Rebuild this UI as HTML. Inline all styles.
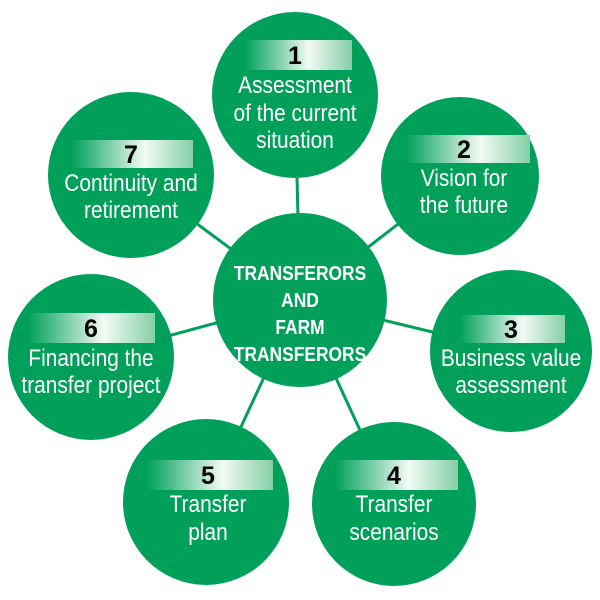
<!DOCTYPE html>
<html><head><style>
html,body{margin:0;padding:0;background:#fff;}
svg{display:block;}
text{font-family:"Liberation Sans",sans-serif;}
.t{fill:#fff;font-size:24px;text-anchor:middle;}
.n{fill:#000;font-size:25px;font-weight:bold;text-anchor:middle;}
.c{fill:#fff;font-size:20px;font-weight:bold;text-anchor:middle;}
</style></head><body>
<svg width="600" height="600" viewBox="0 0 600 600">
<defs>
<linearGradient id="g" x1="0" x2="1" y1="0" y2="0">
<stop offset="0" stop-color="#00a05a"/>
<stop offset="0.6" stop-color="#f2faf5"/>
<stop offset="1" stop-color="#84cfa6"/>
</linearGradient>
</defs>
<g stroke="#00a05a" stroke-width="3">
<line x1="300" y1="300" x2="295" y2="95"/>
<line x1="300" y1="300" x2="460" y2="176"/>
<line x1="300" y1="300" x2="511" y2="351"/>
<line x1="300" y1="300" x2="394" y2="504"/>
<line x1="300" y1="300" x2="206" y2="502"/>
<line x1="300" y1="300" x2="91" y2="357"/>
<line x1="300" y1="300" x2="131" y2="175"/>
</g>
<g fill="#00a05a">
<circle cx="300" cy="300" r="87"/>
<circle cx="295" cy="95" r="83"/>
<circle cx="460" cy="176" r="79"/>
<circle cx="511" cy="351" r="81"/>
<circle cx="394" cy="504" r="82"/>
<circle cx="206" cy="502" r="83"/>
<circle cx="91" cy="357" r="83"/>
<circle cx="131" cy="175" r="83"/>
</g>
<!-- 1 -->
<rect x="245" y="40" width="107" height="30" fill="url(#g)"/>
<text class="n" x="295" y="64">1</text>
<g transform="translate(295,0) scale(0.87,1)">
<text class="t" x="0" y="93">Assessment</text>
<text class="t" x="0" y="121">of the current</text>
<text class="t" x="0" y="148">situation</text>
</g>
<!-- 2 -->
<rect x="406" y="135" width="124" height="28" fill="url(#g)"/>
<text class="n" x="464" y="158">2</text>
<g transform="translate(464,0) scale(0.87,1)">
<text class="t" x="0" y="186">Vision for</text>
<text class="t" x="0" y="213">the future</text>
</g>
<!-- 3 -->
<rect x="460" y="315" width="105" height="28" fill="url(#g)"/>
<text class="n" x="511" y="338">3</text>
<g transform="translate(511,0) scale(0.87,1)">
<text class="t" x="0" y="366">Business value</text>
<text class="t" x="0" y="393">assessment</text>
</g>
<!-- 4 -->
<rect x="335" y="460" width="123" height="30" fill="url(#g)"/>
<text class="n" x="394" y="484">4</text>
<g transform="translate(394,0) scale(0.87,1)">
<text class="t" x="0" y="512">Transfer</text>
<text class="t" x="0" y="540">scenarios</text>
</g>
<!-- 5 -->
<rect x="147" y="460" width="126" height="30" fill="url(#g)"/>
<text class="n" x="208" y="484">5</text>
<g transform="translate(208,0) scale(0.87,1)">
<text class="t" x="0" y="512">Transfer</text>
<text class="t" x="0" y="540">plan</text>
</g>
<!-- 6 -->
<rect x="28" y="313" width="127" height="30" fill="url(#g)"/>
<text class="n" x="91" y="337">6</text>
<g transform="translate(91,0) scale(0.87,1)">
<text class="t" x="0" y="366">Financing the</text>
<text class="t" x="0" y="393">transfer project</text>
</g>
<!-- 7 -->
<rect x="72" y="140" width="121" height="28" fill="url(#g)"/>
<text class="n" x="131" y="163">7</text>
<g transform="translate(131,0) scale(0.87,1)">
<text class="t" x="0" y="191">Continuity and</text>
<text class="t" x="0" y="218">retirement</text>
</g>
<!-- center -->
<g transform="translate(300,0) scale(0.87,1)">
<text class="c" x="0" y="280">TRANSFERORS</text>
<text class="c" x="0" y="307">AND</text>
<text class="c" x="0" y="334">FARM</text>
<text class="c" x="0" y="361">TRANSFERORS</text>
</g>
</svg>
</body></html>
